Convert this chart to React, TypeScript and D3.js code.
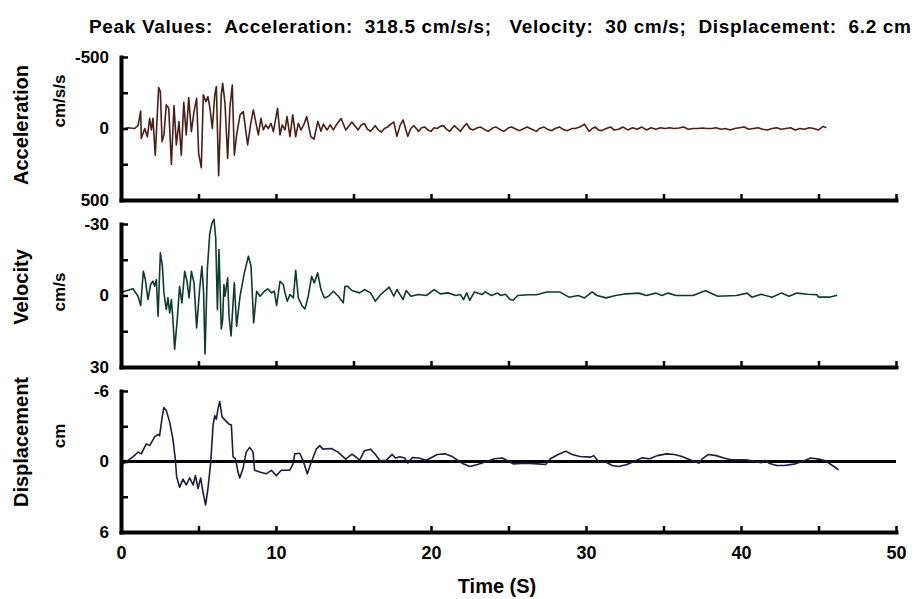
import React, { useEffect, useRef } from "react";
import * as d3 from "d3";

// TITLE & TICKS
const chartTitle =
  "Peak Values:  Acceleration:  318.5 cm/s/s;   Velocity:  30 cm/s;  Displacement:  6.2 cm";
const timeTicks = [0, 5, 10, 15, 20, 25, 30, 35, 40, 45, 50];
const timeLabels = [0, 10, 20, 30, 40, 50];

// ACCELERATION (cm/s/s) - negative is drawn upward
const accTime = [
  0, 0.45, 0.88, 1.1, 1.27, 1.31, 1.53, 1.7, 1.85, 1.96, 2.06, 2.21, 2.43, 2.54, 2.65, 2.77, 2.92,
  3.08, 3.25, 3.42, 3.57, 3.74, 3.89, 4.05, 4.21, 4.37, 4.54, 4.71, 4.88, 5.01, 5.18, 5.31, 5.48,
  5.61, 5.74, 5.89, 6.05, 6.15, 6.3, 6.47, 6.56, 6.71, 6.88, 7.03, 7.18, 7.31, 7.46, 7.68, 7.89,
  8.17, 8.39, 8.54, 8.69, 8.86, 9.03, 9.18, 9.34, 9.5, 9.68, 9.83, 10.1, 10.26, 10.4, 10.58, 10.71,
  10.9, 11.08, 11.27, 11.44, 11.61, 11.79, 11.98, 12.25, 12.45, 12.7, 12.9, 13.05, 13.3, 13.5, 13.7,
  13.92, 14.2, 14.5, 14.9, 15.3, 15.5, 15.7, 15.9, 16.1, 16.4, 16.6, 16.8, 17.0, 17.2, 17.4, 17.6,
  17.8, 18.0, 18.2, 18.5, 18.7, 18.9, 19.2, 19.4, 19.6, 19.8, 20.0, 20.2, 20.4, 20.6, 20.8, 21.0,
  21.2, 21.5, 21.7, 21.9, 22.1, 22.3, 22.5, 22.7, 23.0, 23.2, 23.5, 23.7, 24.0, 24.2, 24.5, 24.7,
  25.0, 25.2, 25.5, 25.7, 26.0, 26.2, 26.5, 26.8, 27.0, 27.3, 27.5, 27.8, 28.0, 28.3, 28.5, 28.8,
  29.1, 29.3, 29.6, 29.9, 30.2, 30.4, 30.6, 30.8, 31.0, 31.3, 31.6, 31.8, 32.1, 32.4, 32.7, 33.0,
  33.3, 33.6, 33.9, 34.2, 34.5, 34.8, 35.1, 35.4, 35.7, 36.0, 36.3, 36.6, 36.9, 37.2, 37.5, 37.8,
  38.1, 38.4, 38.7, 39.0, 39.3, 39.6, 39.9, 40.2, 40.5, 40.8, 41.1, 41.4, 41.7, 42.0, 42.3, 42.6,
  42.9, 43.2, 43.5, 43.8, 44.1, 44.4, 44.7, 45.0, 45.3, 45.5,
];
const accValue = [
  10, -5, 0, -20, -122, 70, 0, 57, -71, 10, -71, 186, -286, -258, 92, 45, -165,
  -141, 251, -160, 115, -48, 186, -183, 45, -216, 22, -118, -211, 174, 274, -235, -188,
  -223, -141, 0, -235, -293, 330, -235, -316, -176, 209, -153, -304, 186, 45, -95, -118,
  115, -48, -130, -48, 45, -71, 10, -25, 0, -36, 22, -141, 45, -25, 10, -83,
  57, -95, 57, -36, 10, -25, -83, 57, 75, -50, 20, -30, 10, -25, 10,
  -30, -70, 10, -45, 10, -25, -35, 5, 20, -20, 10, 25, 0, -10, -30, -45,
  55, -20, -60, 55, 0, -20, 20, -5, -10, 10, 20, -5, 0, -15, -20, 5,
  20, -20, 0, 20, -10, -35, 0, 10, -5, -10, 10, 20, -5, -10, 10, 20,
  -5, -10, 5, 15, 0, -10, 5, 20, 0, -10, 5, 15, 0, -10, 5, 15,
  0, 0, -10, -30, 20, 0, -10, 10, 15, 0, -10, 10, 5, -10, 10, -5,
  5, -10, 10, -5, 5, -5, 0, -5, 0, -3, -10, 5, 0, 0, -3, 0,
  0, -5, 5, 0, 10, 0, -5, -10, 5, 0, -5, 5, 10, 0, -5, 5,
  0, -5, 10, 0, 5, -5, 0, 10, -15, -5,
];

// VELOCITY (cm/s)
const velTime = [
  0, 0.24, 0.77, 1.1, 1.27, 1.44, 1.57, 1.74, 1.91, 2.06, 2.17, 2.28, 2.39, 2.54, 2.67, 2.77, 2.92,
  3.03, 3.14, 3.25, 3.35, 3.46, 3.63, 3.78, 3.93, 4.11, 4.26, 4.39, 4.54, 4.71, 4.88, 5.07, 5.22,
  5.33, 5.42, 5.57, 5.72, 5.87, 6.0, 6.11, 6.22, 6.32, 6.47, 6.56, 6.64, 6.71, 6.88, 6.97, 7.1,
  7.31, 7.46, 7.68, 7.96, 8.22, 8.39, 8.56, 8.75, 8.97, 9.25, 9.46, 9.72, 9.89, 10.04, 10.26, 10.47,
  10.58, 10.73, 10.9, 11.12, 11.27, 11.44, 11.7, 11.87, 12.08, 12.3, 12.47, 12.69, 12.9, 13.12,
  13.38, 13.7, 14.02, 14.34, 14.45, 14.6, 14.9, 15.4, 15.7, 16.1, 16.4, 16.8, 17.3, 17.6, 17.8, 18.2,
  18.4, 18.7, 19.2, 19.7, 20.2, 20.6, 21.1, 21.6, 21.9, 22.1, 22.3, 22.5, 22.8, 23.3, 23.5, 23.9,
  24.3, 24.5, 24.8, 25.1, 25.3, 25.6, 26.3, 26.8, 27.5, 28.3, 28.9, 29.5, 29.9, 30.4, 30.7, 31.3,
  31.9, 32.6, 33.4, 33.9, 34.5, 34.9, 35.3, 35.8, 36.9, 37.7, 38.5, 39.7, 40.4, 40.7, 41.3, 42.0,
  42.6, 43.1, 43.6, 44.3, 44.9, 45.0, 45.7, 46.2,
];
const velValue = [
  -1.4, -1.8, -2.8, 0.3, 4.2, -10.2, -6.7, 1.7, -4.6, -6.0, -3.9, -6.7, 8.7, -17.9, -12.3, -1.1, 5.9,
  1.0, 7.3, 1.7, 10.1, 22.5, 10.1, -3.9, 3.1, -10.2, -6.0, 1.0, -10.2, -5.3, 13.6, -2.5, -12.3,
  -1.1, 24.5, -10.9, -25.6, -30.5, -32, -24.2, 5.9, -19.3, 14, 10, -4.6, 0.3, -7.4, 8.7, 17,
  -5.3, 12.9, 0.3, -9.5, -16.5, -12.3, 11.5, -1.8, 0.3, -1.8, -2.8, -1.1, -1.8, 4.2, -6.0, -4.6,
  -1.1, 2.4, -0.4, 1.0, -10.6, 1.0, 4.5, 5.6, 0.3, -8.1, -5.3, -9.5, -2.5, 1.0,
  0.3, -1.8, 0.3, 3.1, -3.9, -3.9, -2.1, -1.1, -2.5, -1.1, 2.4, -0.7, -3.5, 0.3, -2.5, 1.7,
  -2.1, 0.3, -0.4, 0, -2.5, -0.7, -1.1, 0, -0.4, 1.7, -1.1, 2.0, -1.5, -0.4, -1.5, 0,
  -1.0, 0, -0.5, 1.7, 2.0, 0, -0.3, -0.3, -1.5, -1.5, 0.7, 0, 1.0, -1.5, 0, 1.0,
  0, -0.7, -1.0, 0, -1.0, 0, -1.0, 0, 0, -2.0, 0.3, 0, -1.0, 0.7, -0.5, 0.7,
  -1.0, 0.3, -1.0, -0.5, -0.3, 0.7, 0.7, -0.1,
];

// DISPLACEMENT (cm)
const dispTime = [
  0, 0.13, 0.45, 0.77, 1.1, 1.31, 1.63, 1.85, 2.17, 2.39, 2.49, 2.67, 2.77, 2.92, 3.14, 3.35, 3.5,
  3.59, 3.78, 4.0, 4.21, 4.43, 4.65, 4.8, 4.97, 5.14, 5.29, 5.46, 5.61, 5.79, 5.94, 6.05, 6.15,
  6.26, 6.37, 6.52, 6.73, 6.95, 7.12, 7.23, 7.38, 7.55, 7.66, 7.87, 8.08, 8.3, 8.52, 8.62, 8.95,
  9.37, 9.7, 10.02, 10.34, 10.88, 11.1, 11.21, 11.53, 11.74, 12.02, 12.28, 12.6, 12.82, 13.03,
  13.57, 14.0, 14.5, 14.9, 15.2, 15.4, 15.7, 16.1, 16.4, 16.7, 17.1, 17.5, 17.7, 18.0, 18.3, 18.5,
  18.8, 19.2, 19.7, 20.4, 20.9, 21.4, 22.0, 22.5, 23.0, 23.6, 24.1, 24.6, 24.9, 25.3, 26.1, 26.9,
  27.4, 27.7, 28.2, 28.7, 29.1, 29.6, 30.3, 30.5, 30.8, 31.3, 31.7, 32.1, 32.6, 33.1, 33.6, 34.1,
  34.6, 35.2, 35.7, 36.2, 36.7, 37.3, 37.5, 37.9, 38.4, 38.9, 39.3, 39.8, 40.3, 40.8, 41.3, 41.6,
  41.8, 42.3, 42.8, 43.5, 44.0, 44.5, 45.0, 45.4, 45.9, 46.3,
];
const dispValue = [
  0.2, 0.2, -0.1, -0.4, -0.8, -0.65, -1.5, -1.35, -2.1, -2.3, -2.2, -3.9, -4.6, -4.35, -3.35, -1.9, -0.25,
  1.3, 2.2, 1.5, 2.0, 1.4, 2.0, 1.2, 2.3, 1.4, 2.6, 3.7, 2.3, 0.05, -3.1, -3.9, -3.6,
  -4.5, -5.1, -3.8, -3.5, -3.2, -3.1, -0.4, -0.25, 0.9, 1.4, 0.6, -0.8, -1.2, -0.8, 0.75, 0.9,
  1.05, 0.75, 1.2, 0.75, 0.75, 0.2, -0.65, -0.7, -0.1, 1.05, 0.05, -1.05, -1.35, -1.05,
  -1.1, -0.8, -0.2, -0.62, -0.34, -0.11, -0.91, -1.05, -0.62, -0.09, -0.09, -0.6, -0.3, -0.4, -0.3, 0.14,
  -0.34, -0.3, -0.11, -0.6, -0.65, -0.4, 0.14, 0.43, 0.26, 0, -0.23, -0.3, -0.09, 0.2, 0.14, 0.2,
  0.26, -0.23, -0.6, -0.88, -0.6, -0.43, -0.37, -0.5, 0, 0.06, 0.34, 0.43, 0.28, 0, -0.31, -0.23,
  -0.5, -0.65, -0.6, -0.43, -0.14, 0.14, -0.23, -0.6, -0.5, -0.3, -0.17, -0.14, -0.14, -0.03, 0.11, -0.09,
  0.14, 0.34, 0.34, 0.2, -0.03, -0.3, -0.2, -0.09, 0.34, 0.71,
];

const FONT = "'Liberation Sans', Arial, Helvetica, sans-serif";

// PANEL LAYOUT
const panels = [
  { name: "Acceleration", unit: "cm/s/s", time: accTime, value: accValue, max: 500,
    color: "#4a2016", top: 57, bottom: 200, nameY: 125, unitY: 101, zero: false },
  { name: "Velocity", unit: "cm/s", time: velTime, value: velValue, max: 30,
    color: "#0f3a31", top: 224, bottom: 367, nameY: 287, unitY: 292, zero: false },
  { name: "Displacement", unit: "cm", time: dispTime, value: dispValue, max: 6,
    color: "#1c1c42", top: 391, bottom: 532, nameY: 442, unitY: 436, zero: true },
];

export default function App() {
  const ref = useRef<SVGSVGElement | null>(null);

  useEffect(() => {
    const svg = d3.select(ref.current);
    svg.selectAll("*").remove();

    // X SCALE (seconds)
    const x = d3.scaleLinear().domain([0, 50]).range([121, 896]);

    panels.forEach((p, pi) => {
      const y = d3.scaleLinear().domain([-p.max, p.max]).range([p.top, p.bottom]);
      const isLast = pi === panels.length - 1;

      // ZERO LINE (displacement only)
      if (p.zero) {
        svg
          .append("line")
          .attr("x1", x(0))
          .attr("x2", x(50))
          .attr("y1", y(0))
          .attr("y2", y(0))
          .attr("stroke", "#000")
          .attr("stroke-width", 3);
      }

      // DATA LINE
      const line = d3
        .line<number>()
        .x((i) => x(p.time[i]))
        .y((i) => y(p.value[i]));
      svg
        .append("path")
        .datum(d3.range(p.time.length))
        .attr("fill", "none")
        .attr("stroke", p.color)
        .attr("stroke-width", 1.6)
        .attr("stroke-linejoin", "round")
        .attr("d", line);

      // Y AXIS
      const shown = [-p.max, 0, p.max];
      const yAxis = d3
        .axisLeft(y)
        .tickValues([-p.max, -p.max / 2, 0, p.max / 2, p.max])
        .tickSizeInner(-7)
        .tickSizeOuter(0)
        .tickPadding(12)
        .tickFormat((d) => (shown.includes(+d) ? String(d) : ""));
      const gy = svg
        .append("g")
        .attr("transform", `translate(${x(0)},0)`)
        .call(yAxis);
      gy.select(".domain").attr("stroke-width", 4).attr("stroke-linecap", "square");
      gy.selectAll(".tick line").attr("stroke-width", 2.5);
      gy.selectAll("text")
        .attr("font-family", FONT)
        .attr("font-weight", "bold")
        .attr("font-size", 17)
        .attr("fill", "#000");

      // X AXIS
      const xAxis = d3
        .axisBottom(x)
        .tickValues(timeTicks)
        .tickSizeInner(-6)
        .tickSizeOuter(0)
        .tickPadding(14)
        .tickFormat((d) => (isLast && timeLabels.includes(+d) ? String(d) : ""));
      const gx = svg
        .append("g")
        .attr("transform", `translate(0,${p.bottom})`)
        .call(xAxis);
      gx.select(".domain").attr("stroke-width", 4).attr("stroke-linecap", "square");
      gx.selectAll(".tick line").attr("stroke-width", 2.5);
      gx.selectAll("text")
        .attr("font-family", FONT)
        .attr("font-weight", "bold")
        .attr("font-size", 18)
        .attr("fill", "#000");

      // Y TITLES
      svg
        .append("text")
        .attr("transform", `translate(28,${p.nameY}) rotate(-90)`)
        .attr("text-anchor", "middle")
        .attr("font-family", FONT)
        .attr("font-weight", "bold")
        .attr("font-size", 20)
        .text(p.name);
      svg
        .append("text")
        .attr("transform", `translate(65,${p.unitY}) rotate(-90)`)
        .attr("text-anchor", "middle")
        .attr("font-family", FONT)
        .attr("font-weight", "bold")
        .attr("font-size", 17)
        .text(p.unit);
    });

    // X TITLE
    svg
      .append("text")
      .attr("x", 497)
      .attr("y", 593)
      .attr("text-anchor", "middle")
      .attr("font-family", FONT)
      .attr("font-weight", "bold")
      .attr("font-size", 20)
      .text("Time (S)");

    // CHART TITLE
    svg
      .append("text")
      .attr("x", 500)
      .attr("y", 33)
      .attr("text-anchor", "middle")
      .attr("font-family", FONT)
      .attr("font-weight", "bold")
      .attr("font-size", 19)
      .attr("textLength", 822)
      .attr("lengthAdjust", "spacing")
      .style("white-space", "pre")
      .text(chartTitle);
  }, []);

  return (
    <svg
      ref={ref}
      width={914}
      height={599}
      style={{ position: "absolute", left: 0, top: 0, background: "#fff" }}
    />
  );
}
